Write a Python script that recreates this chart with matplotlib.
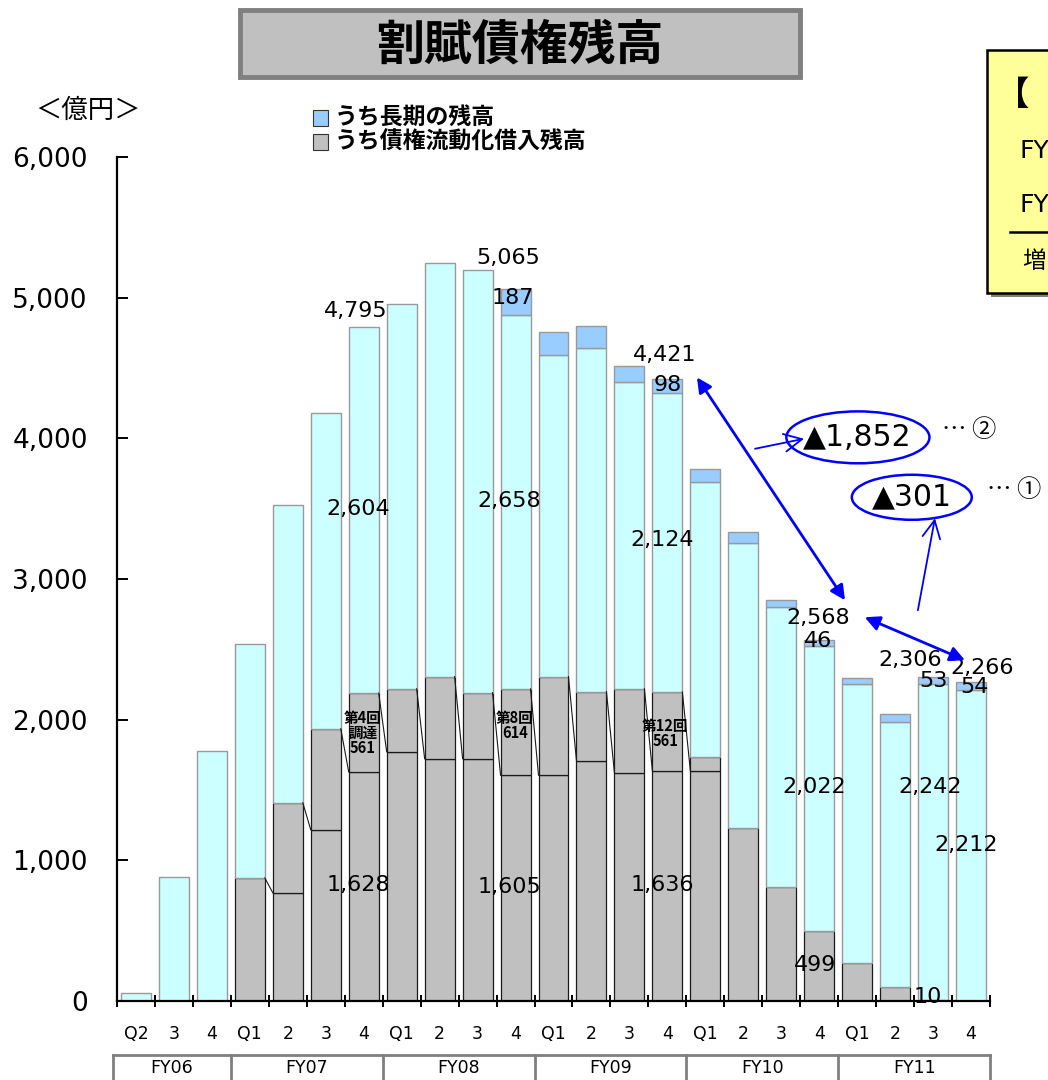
import matplotlib
matplotlib.use("Agg")
import matplotlib.pyplot as plt
from matplotlib.patches import Rectangle, Ellipse
import matplotlib.transforms as mtransforms

JP = ["Noto Sans CJK JP", "DejaVu Sans"]
NUM = ["DejaVu Sans", "Noto Sans CJK JP"]

# ---- data (億円) ----
quarters = ["Q2", "3", "4", "Q1", "2", "3", "4", "Q1", "2", "3", "4",
            "Q1", "2", "3", "4", "Q1", "2", "3", "4", "Q1", "2", "3", "4"]
fiscal_years = ["FY06", "FY07", "FY08", "FY09", "FY10", "FY11"]
fy_quarter_counts = [3, 4, 4, 4, 4, 4]

# securitised borrowing: amortised balance carried over, and newly raised tranche
securitised_prior = [0, 0, 0, 0, 769, 1217, 1628, 1772, 1722, 1722, 1605, 1605,
                     1708, 1623, 1636, 1637, 1231, 811, 499, 270, 99, 10, 0]
securitised_new = [0, 0, 0, 875, 640, 719, 561, 448, 584, 470, 614, 701,
                   491, 597, 561, 100, 0, 0, 0, 0, 0, 0, 0]
# other instalment receivables
other_balance = [55, 880, 1775, 1660, 2115, 2242, 2604, 2732, 2944, 3002, 2658, 2284,
                 2441, 2179, 2124, 1951, 2023, 1988, 2022, 1981, 1884, 2242, 2212]
# long-term portion
long_term = [0, 0, 0, 0, 0, 0, 0, 0, 0, 0, 187, 163,
             156, 113, 98, 92, 78, 50, 46, 45, 60, 53, 54]

total_labels = {6: "4,795", 10: "5,065", 14: "4,421", 18: "2,568", 21: "2,306", 22: "2,266"}
yticks = [0, 1000, 2000, 3000, 4000, 5000, 6000]
ytick_labels = ["0", "1,000", "2,000", "3,000", "4,000", "5,000", "6,000"]

C_GRAY = "#C0C0C0"
C_CYAN = "#CCFFFF"
C_BLUE = "#99CCFF"
ARROW = "#0000FF"

fig = plt.figure(figsize=(10.48, 10.8), dpi=100)
W, H = 1048, 1080
ax = fig.add_axes([117 / W, 1 - 1001 / H, 873 / W, 844 / H])

n = len(quarters)
x = list(range(n))
bw = 0.79

def draw_stack(values, bottoms, color, edge, lw):
    xs = [i for i in x if values[i] > 0]
    ax.bar(xs, [values[i] for i in xs], bottom=[bottoms[i] for i in xs], width=bw,
           color=color, edgecolor=edge, linewidth=lw, zorder=2)

zeros = [0] * n
gray_top = [a + b for a, b in zip(securitised_prior, securitised_new)]
cyan_top = [g + c for g, c in zip(gray_top, other_balance)]
draw_stack(securitised_prior, zeros, C_GRAY, "#1a1a1a", 0.9)
draw_stack(securitised_new, securitised_prior, C_GRAY, "#1a1a1a", 0.9)
draw_stack(other_balance, gray_top, C_CYAN, "#999999", 1.0)
draw_stack(long_term, cyan_top, C_BLUE, "#999999", 1.0)

# series lines linking each tranche's balance to the next quarter
for i in range(3, 15):
    ax.plot([i + bw / 2, i + 1 - bw / 2], [gray_top[i], securitised_prior[i + 1]],
            color="#1a1a1a", lw=0.8, zorder=3)

ax.set_xlim(-0.5, n - 0.5)
ax.set_ylim(0, 6000)
ax.spines["top"].set_visible(False)
ax.spines["right"].set_visible(False)
for s in ("left", "bottom"):
    ax.spines[s].set_linewidth(1.6)
    ax.spines[s].set_zorder(5)

ax.set_yticks(yticks)
ax.set_yticklabels(ytick_labels, fontsize=19, family=NUM)
ax.tick_params(axis="y", direction="in", length=8, width=1.4, pad=21)
ax.set_xticks(x)
ax.set_xticklabels(quarters, fontsize=12.5, family=NUM)
ax.tick_params(axis="x", which="major", length=0, pad=17)
ax.set_xticks([i - 0.5 for i in range(n + 1)], minor=True)
ax.tick_params(axis="x", which="minor", direction="inout", length=8, width=1.4)

# fiscal-year table under the axis
trans = mtransforms.blended_transform_factory(ax.transData, fig.transFigure)
y_tab_top = 1 - 1055 / H
bounds = [-0.6]
acc = 0
for c in fy_quarter_counts:
    acc += c
    bounds.append(acc - 0.5)
fig.add_artist(plt.Line2D([bounds[0], bounds[-1]], [y_tab_top, y_tab_top],
                          transform=trans, color="#808080", lw=2))
for b in bounds:
    fig.add_artist(plt.Line2D([b, b], [0, y_tab_top], transform=trans,
                              color="#808080", lw=2))
for k, fy in enumerate(fiscal_years):
    fig.text((bounds[k] + bounds[k + 1]) / 2, 1 - 1068 / H, fy, transform=trans,
             ha="center", va="center", fontsize=12.5, family=NUM)

# value labels
def lab(xv, yv, s, size=16, **kw):
    ax.text(xv, yv, s, ha="center", va="center", fontsize=size, family=NUM,
            zorder=6, **kw)

tot_pos = {6: (5.8, 4902), 10: (9.8, 5279), 14: (13.94, 4590),
           18: (17.97, 2721), 21: (20.39, 2423), 22: (22.29, 2366)}
for i, s in total_labels.items():
    lab(*tot_pos[i], s)
lt_pos = {10: (9.93, 4995), 14: (14.02, 4377), 18: (17.97, 2558),
          21: (21.02, 2274), 22: (22.08, 2231)}
for i, (xv, yv) in lt_pos.items():
    lab(xv, yv, f"{long_term[i]:,}")
oth_pos = {6: (5.85, 3496), 10: (9.83, 3552), 14: (13.86, 3275),
           18: (17.86, 1520), 21: (20.92, 1520), 22: (21.87, 1108)}
for i, (xv, yv) in oth_pos.items():
    lab(xv, yv, f"{other_balance[i]:,}")
prior_pos = {6: (5.85, 824), 10: (9.83, 810), 14: (13.86, 824)}
for i, (xv, yv) in prior_pos.items():
    lab(xv, yv, f"{securitised_prior[i]:,}")
lab(17.89, 256, f"{securitised_prior[18]:,}")
lab(20.86, 28, f"{securitised_prior[21]:,}")

# new tranche notes
note_kw = dict(ha="center", va="center", fontsize=10.5, fontweight="bold", family=JP,
               linespacing=0.92, zorder=6)
ax.text(5.98, 1904, f"第4回\n調達\n{securitised_new[6]}", **note_kw)
ax.text(9.98, 1961, f"第8回\n{securitised_new[10]}", **note_kw)
ax.text(13.94, 1904, f"第12回\n{securitised_new[14]}", **note_kw)

# decline annotations
for (x1, y1), (x2, y2) in [((14.78, 4433), (18.68, 2849)), ((19.2, 2728), (21.84, 2423))]:
    ax.annotate("", xy=(x2, y2), xytext=(x1, y1),
                arrowprops=dict(arrowstyle="<|-|>", color=ARROW, lw=2,
                                mutation_scale=22, shrinkA=0, shrinkB=0), zorder=7)
for (x1, y1), (x2, y2) in [((16.31, 3926), (17.6, 3997)), ((20.6, 2778), (21.05, 3432))]:
    ax.annotate("", xy=(x2, y2), xytext=(x1, y1),
                arrowprops=dict(arrowstyle="->", color=ARROW, lw=1.3,
                                mutation_scale=32, shrinkA=0, shrinkB=0), zorder=7)
ax.add_patch(Ellipse((19.02, 4007), 3.77, 369, fill=False, edgecolor=ARROW, lw=1.8,
                     zorder=7, clip_on=False))
ax.add_patch(Ellipse((20.44, 3581), 3.16, 320, fill=False, edgecolor=ARROW, lw=1.8,
                     zorder=7, clip_on=False))
ax.text(19.0, 4007, "▲1,852", ha="center", va="center", fontsize=21.5, family=NUM, zorder=8)
ax.text(20.44, 3581, "▲301", ha="center", va="center", fontsize=21.5, family=NUM, zorder=8)
fig.text(942 / W, 1 - 430 / H, "… ②", ha="left", va="center", fontsize=17.5, family=JP)
fig.text(987 / W, 1 - 490 / H, "… ①", ha="left", va="center", fontsize=17.5, family=JP)

# title box
fig.add_artist(Rectangle((240 / W, 1 - 77 / H), 560 / W, 67 / H, transform=fig.transFigure,
                         facecolor=C_GRAY, edgecolor="#808080", lw=3.5))
fig.text(520 / W, 1 - 45 / H, "割賦債権残高", ha="center", va="center", fontsize=34.5,
         fontweight="bold", family=JP)

# side summary box
fig.add_artist(Rectangle((991 / W, 1 - 297 / H), 0.2, 243 / H, transform=fig.transFigure,
                         facecolor="#808080", edgecolor="none"))
fig.add_artist(Rectangle((987 / W, 1 - 293 / H), 0.2, 243 / H, transform=fig.transFigure,
                         facecolor="#FFFF99", edgecolor="black", lw=1.8))
fig.text(996 / W, 1 - 95 / H, "【", ha="left", va="center", fontsize=24,
         fontweight="bold", family=JP)
fig.text(1019 / W, 1 - 151 / H, "FY", ha="left", va="center", fontsize=18, family=NUM)
fig.text(1019 / W, 1 - 205 / H, "FY", ha="left", va="center", fontsize=18, family=NUM)
fig.add_artist(plt.Line2D([1010 / W, 1.1], [1 - 232 / H] * 2, transform=fig.transFigure,
                          color="black", lw=1.8))
fig.text(1022 / W, 1 - 262 / H, "増", ha="left", va="center", fontsize=17, family=JP)

# unit and legend
fig.text(88 / W, 1 - 110 / H, "＜億円＞", ha="center", va="center", fontsize=19, family=JP)
for k, (col, txt) in enumerate([(C_BLUE, "うち長期の残高"), (C_GRAY, "うち債権流動化借入残高")]):
    yc = 1 - (118 + 24 * k) / H
    fig.add_artist(Rectangle((313 / W, yc - 8 / H), 15 / W, 16 / H, transform=fig.transFigure,
                             facecolor=col, edgecolor="#333333", lw=0.8))
    fig.text(335 / W, yc, txt, ha="left", va="center", fontsize=16.5, fontweight="bold",
             family=JP)

fig.savefig("out.png", dpi=100)
